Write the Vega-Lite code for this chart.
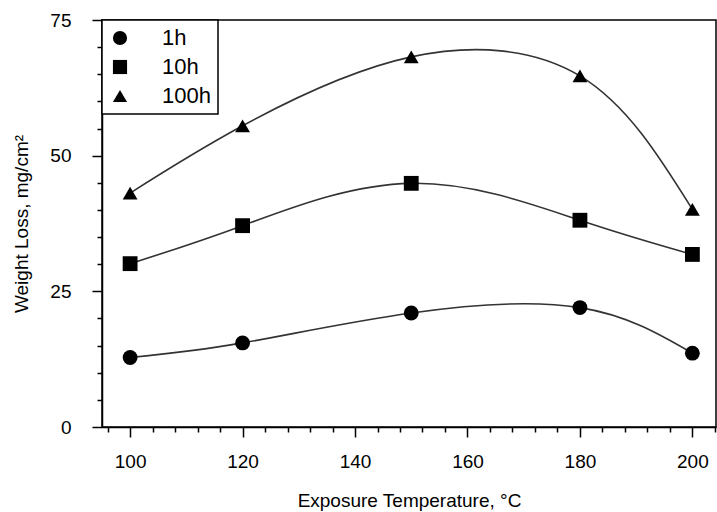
{
  "$schema": "https://vega.github.io/schema/vega-lite/v6.json",
  "width": 614,
  "height": 407,
  "autosize": "none",
  "padding": {"left": 102, "top": 20, "right": 1, "bottom": 85},
  "background": "white",
  "data": {
    "values": [
      {"temp": 100, "loss": 12.8, "series": "1h"},
      {"temp": 120, "loss": 15.5, "series": "1h"},
      {"temp": 150, "loss": 21.0, "series": "1h"},
      {"temp": 180, "loss": 22.0, "series": "1h"},
      {"temp": 200, "loss": 13.6, "series": "1h"},
      {"temp": 100, "loss": 30.1, "series": "10h"},
      {"temp": 120, "loss": 37.1, "series": "10h"},
      {"temp": 150, "loss": 44.9, "series": "10h"},
      {"temp": 180, "loss": 38.1, "series": "10h"},
      {"temp": 200, "loss": 31.8, "series": "10h"},
      {"temp": 100, "loss": 43.1, "series": "100h"},
      {"temp": 120, "loss": 55.5, "series": "100h"},
      {"temp": 150, "loss": 68.2, "series": "100h"},
      {"temp": 180, "loss": 64.7, "series": "100h"},
      {"temp": 200, "loss": 40.1, "series": "100h"}
    ]
  },
  "encoding": {
    "x": {
      "field": "temp",
      "type": "quantitative",
      "scale": {"domain": [95, 204.2], "nice": false, "zero": false},
      "axis": {
        "title": "Exposure Temperature, °C",
        "values": [96, 100, 104, 108, 112, 116, 120, 124, 128, 132, 136, 140, 144, 148, 152, 156, 160, 164, 168, 172, 176, 180, 184, 188, 192, 196, 200, 204],
        "labelExpr": "datum.value % 20 === 0 ? datum.label : ''",
        "tickSize": {"condition": {"test": "datum.value % 20 === 0", "value": 10}, "value": 5},
        "labelPadding": 15,
        "titlePadding": 20
      }
    },
    "y": {
      "field": "loss",
      "type": "quantitative",
      "scale": {"domain": [0, 75], "nice": false},
      "axis": {
        "title": "Weight Loss, mg/cm²",
        "values": [0, 5, 10, 15, 20, 25, 30, 35, 40, 45, 50, 55, 60, 65, 70, 75],
        "labelExpr": "datum.value % 25 === 0 ? datum.label : ''",
        "tickSize": {"condition": {"test": "datum.value % 25 === 0", "value": 10}, "value": 5},
        "labelPadding": 21,
        "titlePadding": 18
      }
    }
  },
  "layer": [
    {
      "mark": {"type": "line", "interpolate": "natural", "color": "#333333", "strokeWidth": 1.6},
      "encoding": {"detail": {"field": "series"}}
    },
    {
      "mark": {"type": "point", "filled": true, "size": 220, "opacity": 1},
      "encoding": {
        "shape": {
          "field": "series",
          "type": "nominal",
          "scale": {"domain": ["1h", "10h", "100h"], "range": ["circle", "square", "triangle-up"]},
          "legend": {
            "orient": "none",
            "legendX": 0,
            "legendY": 0,
            "title": null,
            "padding": 7,
            "strokeColor": "black",
            "fillColor": "white",
            "symbolSize": 200,
            "symbolFillColor": "black",
            "symbolStrokeWidth": 0,
            "symbolOpacity": 1,
            "labelFontSize": 22,
            "labelOffset": 31,
            "rowPadding": 7,
            "labelColor": "black",
            "labelFont": "Liberation Sans"
          }
        },
        "color": {"value": "black"}
      }
    }
  ],
  "config": {
    "view": {"stroke": "black", "strokeWidth": 1.5},
    "font": "Liberation Sans",
    "legend": {"strokeWidth": 1.5},
    "axis": {
      "grid": false,
      "domainColor": "black",
      "domainWidth": 1.5,
      "tickColor": "black",
      "tickWidth": 1.5,
      "labelFont": "Liberation Sans",
      "labelFontSize": 19,
      "labelColor": "black",
      "labelFlush": false,
      "labelOverlap": false,
      "titleFont": "Liberation Sans",
      "titleFontSize": 19,
      "titleFontWeight": "normal",
      "titleColor": "black"
    }
  }
}
